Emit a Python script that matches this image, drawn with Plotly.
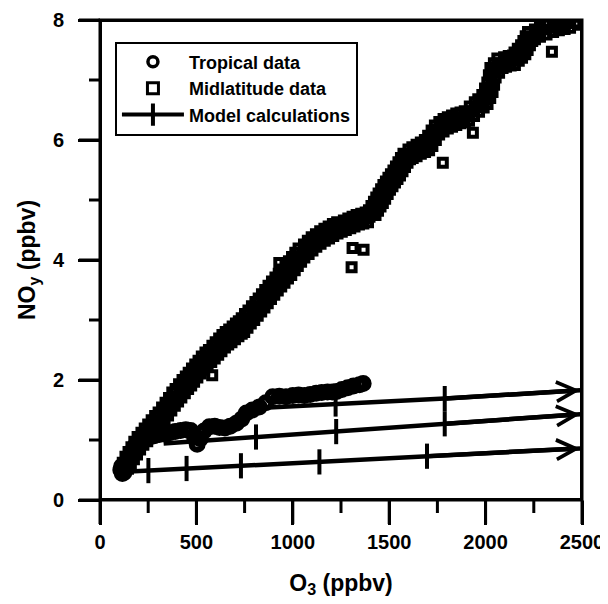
import plotly.graph_objects as go

# ---------------- data ----------------
trop_o3 = [108, 116, 124, 132, 112, 120, 128, 136, 145, 155, 168, 182, 198, 215,
           235, 258, 282, 308, 335, 362, 390, 418, 445, 470, 490, 504, 520, 540,
           567, 595, 620, 648, 675, 707, 735, 759, 790, 826, 860, 896, 930, 965,
           1000, 1030, 1060, 1090, 1121, 1150, 1180, 1205, 1227, 1255, 1285, 1315,
           1346, 1365]
trop_noy = [0.50, 0.44, 0.46, 0.52, 0.56, 0.50, 0.54, 0.60, 0.67, 0.74, 0.82, 0.90,
            0.96, 1.00, 1.03, 1.05, 1.07, 1.09, 1.10, 1.12, 1.14, 1.16, 1.17, 1.16,
            1.05, 0.93, 1.02, 1.15, 1.22, 1.23, 1.21, 1.20, 1.23, 1.28, 1.35, 1.45,
            1.50, 1.55, 1.62, 1.72, 1.73, 1.72, 1.74, 1.75, 1.74, 1.76, 1.78, 1.79,
            1.80, 1.80, 1.81, 1.84, 1.87, 1.90, 1.92, 1.94]

mid_o3 = [
    125, 140, 155, 170, 185, 200, 218, 118, 132, 148, 163, 178, 195, 145, 160, 176, 192, 208, 225,
    235, 252, 270, 288, 307, 215, 232, 250, 268, 286, 245, 262, 280, 298, 318,
    325, 343, 360, 378, 395, 304, 322, 340, 358, 375, 335, 353, 370, 388, 405,
    412, 430, 447, 463, 478, 495, 513, 530, 548, 567,
    392, 410, 428, 445, 460, 477, 494, 511, 528, 547,
    422, 440, 457, 473, 488, 505, 523, 540, 558, 577,
    585, 603, 620, 638, 655, 672, 690, 708, 725, 738, 755, 772, 790, 808, 826,
    565, 583, 600, 618, 635, 652, 670, 688, 705, 720, 735, 752, 770, 788, 806,
    595, 613, 630, 648, 665, 682, 700, 718, 735, 748, 765, 782, 800, 818, 836,
    843, 860, 877, 894, 912, 930, 947, 965, 982, 1000, 1016, 1033, 1050,
    823, 840, 857, 874, 892, 910, 927, 945, 962, 980, 996, 1013, 1030,
    853, 870, 887, 904, 922, 940, 957, 975, 992, 1010, 1026, 1043, 1060,
    1070, 1090, 1110, 1132, 1154, 1176, 1198, 1220, 1242,
    1058, 1078, 1098, 1120, 1142, 1164, 1186, 1208, 1230,
    1082, 1102, 1122, 1144, 1166, 1188, 1210, 1232, 1254,
    1265, 1288, 1310, 1331, 1355, 1378, 1398,
    1265, 1288, 1310, 1331, 1355, 1378,
    1275, 1298, 1320, 1343, 1366, 1390,
    1412, 1425, 1438, 1450, 1462, 1475, 1487, 1500, 1513, 1526, 1539, 1552, 1565, 1578, 1591,
    1395, 1408, 1421, 1433, 1445, 1458, 1470, 1483, 1496, 1509, 1522, 1535, 1548, 1561, 1574,
    1429, 1442, 1455, 1467, 1479, 1492, 1504, 1517, 1530, 1543, 1556, 1569, 1582, 1595, 1608,
    1610, 1630, 1652, 1674, 1695, 1712, 1730, 1747,
    1600, 1620, 1642, 1664, 1685, 1702, 1720, 1737,
    1622, 1642, 1664, 1686, 1707, 1724, 1742, 1759,
    1770, 1792, 1814, 1836, 1858, 1880, 1902, 1928, 1954,
    1760, 1782, 1804, 1826, 1848, 1870, 1892, 1918, 1944,
    1782, 1804, 1826, 1848, 1870, 1892, 1914, 1940, 1966,
    1975, 1996, 2010, 2022, 2030, 2038, 2056, 2074,
    1962, 1983, 1997, 2009, 2017, 2025, 2043, 2061,
    1990, 2010, 2024, 2036, 2044, 2052, 2070, 2088,
    2096, 2120, 2142, 2160, 2177, 2194, 2206, 2218, 2230,
    2096, 2120, 2142, 2150, 2167, 2184, 2196, 2208, 2220,
    2106, 2130, 2152, 2172, 2189, 2206, 2218, 2230, 2242,
    2256, 2282, 2316, 2350, 2380, 2410, 2438, 2465,
    2256, 2282, 2316, 2350, 2380,
    2256, 2282, 2316, 2350, 2380, 2410, 2438, 2480,
    582, 930, 1305, 1310, 1367, 1778, 1934, 2344,
]
mid_noy = [
    0.53, 0.62, 0.70, 0.78, 0.86, 0.93, 1.00, 0.62, 0.72, 0.80, 0.88, 0.97, 1.05, 0.52, 0.60, 0.68, 0.76, 0.84, 0.92,
    1.06, 1.13, 1.19, 1.26, 1.33, 1.12, 1.19, 1.26, 1.33, 1.40, 0.98, 1.04, 1.11, 1.18, 1.24,
    1.41, 1.49, 1.57, 1.65, 1.72, 1.46, 1.54, 1.62, 1.70, 1.79, 1.33, 1.41, 1.49, 1.57, 1.64,
    1.79, 1.86, 1.93, 1.99, 2.05, 2.12, 2.19, 2.25, 2.31, 2.38,
    1.85, 1.93, 2.00, 2.06, 2.12, 2.19, 2.26, 2.32, 2.39, 2.46,
    1.71, 1.78, 1.85, 1.91, 1.97, 2.04, 2.11, 2.17, 2.23, 2.30,
    2.44, 2.50, 2.56, 2.62, 2.67, 2.71, 2.76, 2.81, 2.85, 2.88, 2.95, 3.02, 3.08, 3.15, 3.22,
    2.50, 2.57, 2.63, 2.69, 2.75, 2.80, 2.84, 2.89, 2.94, 2.98, 3.03, 3.10, 3.16, 3.23, 3.30,
    2.36, 2.42, 2.48, 2.54, 2.59, 2.63, 2.68, 2.73, 2.77, 2.80, 2.87, 2.94, 3.00, 3.07, 3.14,
    3.29, 3.36, 3.43, 3.50, 3.57, 3.64, 3.70, 3.77, 3.83, 3.91, 3.98, 4.05, 4.12,
    3.36, 3.43, 3.50, 3.57, 3.64, 3.71, 3.77, 3.84, 3.90, 3.98, 4.05, 4.12, 4.19,
    3.21, 3.28, 3.35, 3.42, 3.49, 3.56, 3.62, 3.69, 3.75, 3.83, 3.90, 3.97, 4.04,
    4.18, 4.24, 4.30, 4.35, 4.40, 4.44, 4.48, 4.52, 4.55,
    4.26, 4.32, 4.38, 4.43, 4.48, 4.52, 4.56, 4.60, 4.63,
    4.10, 4.16, 4.22, 4.27, 4.32, 4.36, 4.40, 4.44, 4.47,
    4.58, 4.61, 4.64, 4.67, 4.69, 4.70, 4.72,
    4.66, 4.69, 4.72, 4.75, 4.77, 4.79,
    4.50, 4.53, 4.56, 4.59, 4.61, 4.63,
    4.80, 4.87, 4.94, 5.00, 5.07, 5.15, 5.22, 5.28, 5.34, 5.40, 5.45, 5.52, 5.59, 5.66, 5.72,
    4.83, 4.90, 4.97, 5.04, 5.11, 5.18, 5.25, 5.31, 5.37, 5.43, 5.49, 5.56, 5.63, 5.70, 5.77,
    4.75, 4.82, 4.89, 4.95, 5.02, 5.10, 5.17, 5.23, 5.29, 5.35, 5.41, 5.48, 5.55, 5.62, 5.68,
    5.76, 5.80, 5.84, 5.87, 5.90, 5.98, 6.08, 6.17,
    5.84, 5.88, 5.92, 5.96, 6.00, 6.07, 6.16, 6.24,
    5.70, 5.73, 5.77, 5.80, 5.83, 5.90, 6.00, 6.09,
    6.22, 6.27, 6.30, 6.33, 6.36, 6.38, 6.40, 6.48, 6.55,
    6.30, 6.35, 6.38, 6.41, 6.44, 6.46, 6.48, 6.56, 6.63,
    6.14, 6.19, 6.22, 6.25, 6.28, 6.30, 6.32, 6.40, 6.47,
    6.61, 6.67, 6.78, 6.88, 7.00, 7.12, 7.20, 7.28,
    6.68, 6.75, 6.86, 6.96, 7.08, 7.20, 7.28, 7.36,
    6.54, 6.60, 6.70, 6.80, 6.92, 7.04, 7.12, 7.20,
    7.30, 7.32, 7.33, 7.39, 7.44, 7.50, 7.57, 7.65, 7.72,
    7.38, 7.40, 7.41, 7.46, 7.52, 7.58, 7.65, 7.73, 7.80,
    7.22, 7.24, 7.25, 7.32, 7.37, 7.43, 7.50, 7.58, 7.65,
    7.76, 7.80, 7.84, 7.88, 7.91, 7.93, 7.95, 7.96,
    7.84, 7.88, 7.92, 7.96, 7.98,
    7.68, 7.72, 7.76, 7.80, 7.83, 7.85, 7.87, 7.92,
    2.08, 3.95, 3.88, 4.20, 4.17, 5.62, 6.12, 7.47,
]

# model calculation paths (line vertices) and their time-tick positions
model_low_o3 = [130, 251, 449, 731, 1138, 1696, 2490]
model_low_noy = [0.47, 0.49, 0.525, 0.57, 0.635, 0.73, 0.86]
model_mid_o3 = [330, 809, 1225, 1788, 2490]
model_mid_noy = [0.94, 1.05, 1.14, 1.27, 1.43]
model_high_o3 = [800, 1222, 1788, 2490]
model_high_noy = [1.53, 1.60, 1.69, 1.83]

x_ticks = [0, 500, 1000, 1500, 2000, 2500]
x_minor_ticks = [250, 750, 1250, 1750, 2250]
y_ticks = [0, 2, 4, 6, 8]
y_minor_ticks = [1, 3, 5, 7]

FONT = "Liberation Sans, Arial, Helvetica, sans-serif"
BLACK = "#000000"

fig = go.Figure()

# plot frame drawn as a closed line around the axis ranges (inner half stays visible)
fig.add_trace(go.Scatter(
    x=[x_ticks[0], x_ticks[0], x_ticks[-1], x_ticks[-1], x_ticks[0]],
    y=[y_ticks[0], y_ticks[-1], y_ticks[-1], y_ticks[0], y_ticks[0]],
    mode="lines", showlegend=False, hoverinfo="skip",
    line=dict(color=BLACK, width=4),
))

# midlatitude squares
fig.add_trace(go.Scatter(
    x=mid_o3, y=mid_noy, mode="markers", showlegend=False,
    marker=dict(symbol="square-open", size=8, color=BLACK, line=dict(width=4, color=BLACK)),
))
# tropical circles
fig.add_trace(go.Scatter(
    x=trop_o3, y=trop_noy, mode="markers", showlegend=False,
    marker=dict(symbol="circle-open", size=11, color=BLACK, line=dict(width=6, color=BLACK)),
))

# model lines with tick marks and arrowheads
for mx, my in [(model_low_o3, model_low_noy), (model_mid_o3, model_mid_noy),
               (model_high_o3, model_high_noy)]:
    fig.add_trace(go.Scatter(x=mx, y=my, mode="lines", showlegend=False,
                             line=dict(color=BLACK, width=4.5)))
    fig.add_trace(go.Scatter(x=mx[1:-1], y=my[1:-1], mode="markers", showlegend=False,
                             marker=dict(symbol="line-ns", size=18, color=BLACK,
                                         line=dict(width=4, color=BLACK))))
    fig.add_annotation(x=mx[-1], y=my[-1], ax=mx[-2], ay=my[-2], xref="x", yref="y",
                       axref="x", ayref="y", text="", showarrow=True, arrowhead=5,
                       arrowsize=0.85, arrowwidth=4.5, arrowcolor=BLACK, standoff=0)

# legend entries
fig.add_trace(go.Scatter(x=[None], y=[None], mode="markers", name="Tropical data",
                         marker=dict(symbol="circle-open", size=10, color=BLACK,
                                     line=dict(width=3.5, color=BLACK))))
fig.add_trace(go.Scatter(x=[None], y=[None], mode="markers", name="Midlatitude data",
                         marker=dict(symbol="square-open", size=11, color=BLACK,
                                     line=dict(width=3, color=BLACK))))
fig.add_trace(go.Scatter(x=[None], y=[None], mode="lines+markers", name="Model calculations",
                         line=dict(color=BLACK, width=4),
                         marker=dict(symbol="line-ns", size=16, color=BLACK,
                                     line=dict(width=4, color=BLACK))))

tick_font = dict(family=FONT, size=20, color=BLACK, weight="bold")
title_font = dict(family=FONT, size=23, color=BLACK, weight="bold")

# the page body has an 8 px margin; the plot area lands at x 100-582, y 20-500 on screen
fig.update_layout(
    width=600, height=596,
    margin=dict(l=92, r=26, t=12, b=104, autoexpand=False),
    paper_bgcolor="white", plot_bgcolor="white",
    showlegend=True,
    legend=dict(x=0.031, y=0.955, xanchor="left", yanchor="top",
                bordercolor=BLACK, borderwidth=2, bgcolor="white",
                font=dict(family=FONT, size=18, color=BLACK, weight="bold"),
                itemwidth=62, tracegroupgap=0),
    xaxis=dict(
        range=[x_ticks[0], x_ticks[-1]], tickmode="array", tickvals=x_ticks,
        ticks="outside", ticklen=24, tickwidth=3, tickcolor=BLACK,
        showline=False, automargin=False,
        showgrid=False, zeroline=False, tickfont=tick_font,
        title=dict(text="O<sub>3</sub> (ppbv)", standoff=22, font=title_font),
    ),
    yaxis=dict(
        range=[y_ticks[0], y_ticks[-1]], tickmode="array", tickvals=y_ticks,
        ticktext=[f"{v}\u2002" for v in y_ticks],
        ticks="outside", ticklen=21, tickwidth=3, tickcolor=BLACK,
        showline=False, automargin=False,
        showgrid=False, zeroline=False, tickfont=tick_font,
        title=dict(text="NO<sub>y</sub> (ppbv)", standoff=10, font=title_font),
    ),
)

# outer half of the frame and the axis tick marks, anchored to the axes' own domains
fig.add_shape(type="rect", xref="x domain", yref="y domain", x0=0, x1=1, y0=0, y1=1,
              line=dict(color=BLACK, width=3), fillcolor="rgba(0,0,0,0)", layer="above")
x_span = x_ticks[-1] - x_ticks[0]
y_span = y_ticks[-1] - y_ticks[0]
for vals, length in [(x_ticks, 24), (x_minor_ticks, 13)]:
    for v in vals:
        f = (v - x_ticks[0]) / x_span
        fig.add_shape(type="line", xref="x domain", yref="y domain", x0=f, x1=f,
                      ysizemode="pixel", yanchor=0, y0=0, y1=-length,
                      line=dict(color=BLACK, width=3))
for vals, length in [(y_ticks, 21), (y_minor_ticks, 11)]:
    for v in vals:
        f = (v - y_ticks[0]) / y_span
        fig.add_shape(type="line", xref="x domain", yref="y domain", y0=f, y1=f,
                      xsizemode="pixel", xanchor=0, x0=0, x1=-length,
                      line=dict(color=BLACK, width=3))

fig.write_html("out.html")
